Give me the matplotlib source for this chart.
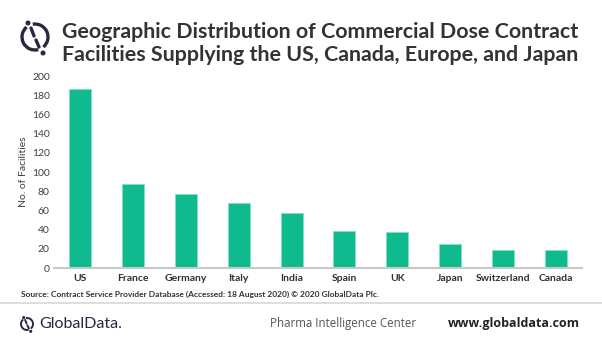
import matplotlib
matplotlib.use("Agg")
import matplotlib.pyplot as plt
from matplotlib.patches import Arc, Circle
from matplotlib.lines import Line2D

categories = ["US", "France", "Germany", "Italy", "India", "Spain", "UK", "Japan", "Switzerland", "Canada"]
facilities = [186, 88, 77, 68, 57, 39, 38, 25, 19, 19]
yticks = [0, 20, 40, 60, 80, 100, 120, 140, 160, 180, 200]

FONT = "Lato"
plt.rcParams['font.family'] = [FONT, 'DejaVu Sans']

W, H = 602, 345
fig = plt.figure(figsize=(W/100, H/100), dpi=100)
fig.patch.set_facecolor("white")

def fx(px): return px / W
def fy(py): return 1 - py / H

ax = fig.add_axes([fx(54), fy(268), fx(582) - fx(54), fy(76) - fy(268)])
ax.bar(range(len(categories)), facilities, width=0.42, color="#0FBB8E",
       edgecolor="#7FE0C4", linewidth=0.6)
ax.set_xlim(-0.5, len(categories) - 0.5)
ax.set_ylim(0, 200)
ax.set_yticks(yticks)
ax.set_yticklabels([str(v) for v in yticks], fontsize=7.5, color="#404040")
ax.set_xticks(range(len(categories)))
ax.set_xticklabels(categories, fontsize=7.5, fontweight="bold", color="#303030")
ax.tick_params(axis="both", length=0, pad=4)
ax.tick_params(axis="y", pad=3)
for s in ["top", "right", "left"]:
    ax.spines[s].set_visible(False)
ax.spines["bottom"].set_color("#C8C8C8")
ax.spines["bottom"].set_linewidth(1.5)
ax.set_ylabel("No. of Facilities", fontsize=7.5, color="#404040")
ax.yaxis.set_label_coords((28 - 54) / 528, 0.5)

# Title
fig.text(fx(62), fy(32), "Geographic Distribution of Commercial Dose Contract",
         fontsize=15.4, fontweight="bold", color="#333333", va="center", ha="left")
fig.text(fx(62), fy(55), "Facilities Supplying the US, Canada, Europe, and Japan",
         fontsize=15.4, fontweight="bold", color="#333333", va="center", ha="left")

overlay = fig.add_axes([0, 0, 1, 1], facecolor="none")
overlay.set_xlim(0, W); overlay.set_ylim(H, 0); overlay.axis("off")

def logo(a, cx, cy, r, lw, color="#2B2742"):
    s = r / 13.0
    a.add_patch(Arc((cx, cy), 2*r, 2*r, theta1=-100, theta2=50, color=color, lw=lw))
    a.add_patch(Arc((cx, cy), 2*r, 2*r, theta1=75, theta2=230, color=color, lw=lw))
    a.plot([cx - 4*s, cx - 1*s], [cy - 9*s, cy - 1*s], color=color, lw=lw, solid_capstyle="round")
    a.plot([cx + 1*s, cx + 4*s], [cy + 3*s, cy + 10*s], color=color, lw=lw, solid_capstyle="round")
    a.add_patch(Circle((cx - 7*s, cy - 14*s), 1.8*s, color=color))
    a.add_patch(Circle((cx + 8*s, cy + 16*s), 1.8*s, color=color))

logo(overlay, 35, 37, 13, 2.4)

# Source
fig.text(fx(21), fy(294), "Source: Contract Service Provider Database (Accessed: 18 August 2020) \u00a9 2020 GlobalData Plc.",
         fontsize=6.0, fontweight="bold", color="#333333", va="center", ha="left")

# divider line
fig.add_artist(Line2D([0, 1], [fy(303), fy(303)], color="#D8D8D8", lw=1.2))

# Footer
logo(overlay, 27, 324, 6, 1.4)
fig.text(fx(39), fy(324), "GlobalData.", fontsize=11.5, color="#2B2742", va="center", ha="left")
fig.text(fx(270), fy(323), "Pharma Intelligence Center", fontsize=8.3, color="#555555",
         va="center", ha="left", family=["Open Sans", "DejaVu Sans"])
fig.text(fx(580), fy(323), "www.globaldata.com", fontsize=9, fontweight="bold", color="#222222",
         va="center", ha="right", family=["Open Sans", "DejaVu Sans"])

fig.savefig("out.png", dpi=100, facecolor="white")
